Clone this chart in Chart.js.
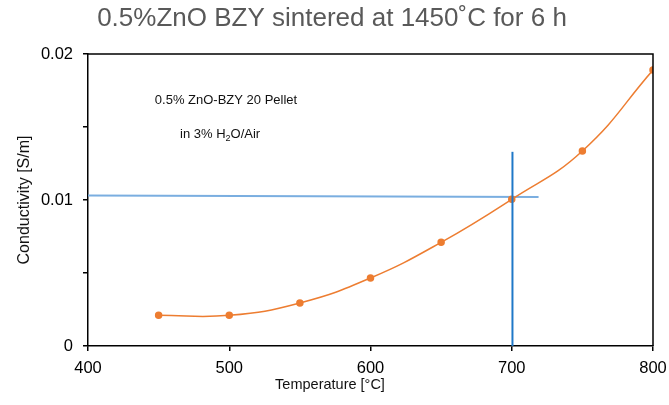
<!DOCTYPE html>
<html>
<head>
<meta charset="utf-8">
<script src="https://cdn.jsdelivr.net/npm/chart.js@4"></script>
<style>
  html, body { margin: 0; padding: 0; background: #fff; }
  #wrap { width: 669px; height: 405px; position: relative; }
</style>
</head>
<body>
<div id="wrap"><canvas id="chart" width="669" height="405"></canvas></div>
<script>
// ======== Data ========
const temps = [450, 500, 550, 600, 650, 700, 750, 800];
const conductivity = [0.0021, 0.0021, 0.00295, 0.00466, 0.0071, 0.01005, 0.01336, 0.0189];

// guide lines
const hLineX = [400, 719];
const hLineY = [0.0103, 0.0102];
const vLineX = [700.5, 700.5];
const vLineY = [0, 0.0133];

const xTicks = [400, 500, 600, 700, 800];
const yTicks = [0, 0.01, 0.02];
const yMinorTicks = [0.005, 0.015];

const FONT = "'Liberation Sans', Arial, sans-serif";

const toPoints = (xs, ys) => xs.map((x, i) => ({ x, y: ys[i] }));

// ======== Extra text + frame ========
const decor = {
  id: "decor",
  afterDraw(chart) {
    const { ctx, chartArea: a } = chart;
    ctx.save();
    // frame top/right
    ctx.strokeStyle = "#000";
    ctx.lineWidth = 1.5;
    ctx.beginPath();
    ctx.moveTo(a.left, a.top);
    ctx.lineTo(a.right, a.top);
    ctx.lineTo(a.right, a.bottom);
    ctx.stroke();

    ctx.textAlign = "center";
    ctx.textBaseline = "middle";
    // title
    ctx.fillStyle = "#595959";
    ctx.font = `26px ${FONT}`;
    ctx.fillText("0.5%ZnO BZY sintered at 1450˚C for 6 h", 332, 19);

    // annotation
    ctx.fillStyle = "#111";
    ctx.font = `13px ${FONT}`;
    ctx.fillText("0.5% ZnO-BZY 20 Pellet", 226, 100);
    ctx.textAlign = "left";
    const s1 = "in 3% H";
    let x = 180;
    ctx.fillText(s1, x, 134);
    x += ctx.measureText(s1).width;
    ctx.font = `9px ${FONT}`;
    ctx.fillText("2", x, 139);
    x += ctx.measureText("2").width;
    ctx.font = `13px ${FONT}`;
    ctx.fillText("O/Air", x, 134);

    // axis titles
    ctx.textAlign = "center";
    ctx.font = `14.5px ${FONT}`;
    ctx.fillText("Temperature [°C]", 330, 385);
    ctx.font = `16px ${FONT}`;
    ctx.translate(25, 200);
    ctx.rotate(-Math.PI / 2);
    ctx.fillText("Conductivity [S/m]", 0, 0);
    ctx.restore();
  },
};

new Chart(document.getElementById("chart"), {
  type: "scatter",
  data: {
    datasets: [
      {
        data: toPoints(hLineX, hLineY),
        showLine: true,
        borderColor: "#7aaee0",
        borderWidth: 2,
        pointRadius: 0,
        order: 3,
      },
      {
        data: toPoints(temps, conductivity),
        showLine: true,
        tension: 0.45,
        borderColor: "#ed7d31",
        backgroundColor: "#ed7d31",
        borderWidth: 1.5,
        pointRadius: 3,
        order: 2,
      },
      {
        data: toPoints(vLineX, vLineY),
        showLine: true,
        borderColor: "#1f78c8",
        borderWidth: 2,
        pointRadius: 0,
        order: 1,
      },
    ],
  },
  options: {
    responsive: false,
    animation: false,
    layout: { padding: { left: 0, right: 16, top: 54, bottom: 0 } },
    plugins: { legend: { display: false }, tooltip: { enabled: false } },
    scales: {
      x: {
        type: "linear",
        min: 400,
        max: 800,
        afterBuildTicks: (s) => (s.ticks = xTicks.map((v) => ({ value: v }))),
        afterFit: (s) => {
          s.height = 59;
          s.paddingLeft = 0;
          s.paddingRight = 0;
        },
        ticks: { color: "#000", font: { family: FONT, size: 16.5 }, padding: 8, maxRotation: 0 },
        grid: { drawOnChartArea: false, drawTicks: true, tickLength: 5, color: "#000", lineWidth: 1.5 },
        border: { color: "#000", width: 1.5 },
      },
      y: {
        min: 0,
        max: 0.02,
        afterBuildTicks: (s) =>
          (s.ticks = [...yTicks, ...yMinorTicks].sort((p, q) => p - q).map((v) => ({ value: v }))),
        afterFit: (s) => {
          s.width = 88;
          s.paddingTop = 0;
          s.paddingBottom = 0;
        },
        ticks: {
          color: "#000",
          font: { family: FONT, size: 16.5 },
          padding: 10,
          callback: (v) => (yTicks.some((t) => Math.abs(t - v) < 1e-9) ? String(+v.toFixed(2)) : ""),
        },
        grid: { drawOnChartArea: false, drawTicks: true, tickLength: 5, color: "#000", lineWidth: 1.5 },
        border: { color: "#000", width: 1.5 },
      },
    },
  },
  plugins: [decor],
});
</script>
</body>
</html>
